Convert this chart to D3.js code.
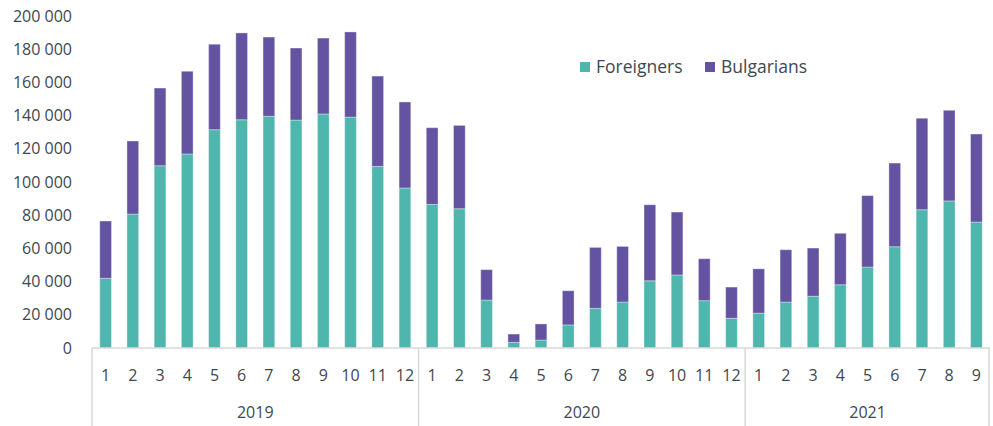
<!DOCTYPE html>
<html>
<head>
<meta charset="utf-8">
<script src="https://cdn.jsdelivr.net/npm/d3@7"></script>
<style>
  body { margin: 0; background: #fff; }
  svg text { font-family: "Open Sans", sans-serif; fill: #3d4850; }
</style>
</head>
<body>
<div id="chart"></div>
<script>
// monthly values, 2019-01 .. 2021-09
const years = ['2019', '2020', '2021'];
const months = [
  '1','2','3','4','5','6','7','8','9','10','11','12',
  '1','2','3','4','5','6','7','8','9','10','11','12',
  '1','2','3','4','5','6','7','8','9'
];
const yearOf = [
  '2019','2019','2019','2019','2019','2019','2019','2019','2019','2019','2019','2019',
  '2020','2020','2020','2020','2020','2020','2020','2020','2020','2020','2020','2020',
  '2021','2021','2021','2021','2021','2021','2021','2021','2021'
];
const foreigners = [
  42000, 80700, 109800, 116900, 131500, 137500, 139600, 137300, 141000, 139100, 109400, 96400,
  86500, 83900, 28900, 3400, 4800, 13900, 23900, 27700, 40500, 44000, 28500, 17900,
  21000, 27700, 31200, 38100, 48800, 61000, 83300, 88600, 75900
];
const bulgarians = [
  34500, 44000, 46800, 49800, 51500, 52300, 47700, 43400, 45700, 51300, 54400, 51800,
  46200, 50200, 18300, 5000, 9700, 20600, 36700, 33500, 45800, 37900, 25300, 18800,
  26700, 31500, 29000, 31000, 43000, 50400, 55100, 54600, 53000
];
const yTicks = [0, 20000, 40000, 60000, 80000, 100000, 120000, 140000, 160000, 180000, 200000];
const seriesNames = ['Foreigners', 'Bulgarians'];
const colors = ['#4fb6ad', '#6453a1'];

const width = 993, height = 426;
const margin = {left: 92, right: 3, top: 16, bottom: 78};

const svg = d3.select('#chart').append('svg')
  .attr('width', width)
  .attr('height', height);

const rows = months.map((m, i) => ({
  key: i, month: m, year: yearOf[i],
  Foreigners: foreigners[i], Bulgarians: bulgarians[i]
}));

const x = d3.scaleBand()
  .domain(rows.map(d => d.key))
  .range([margin.left, width - margin.right])
  .paddingInner(0.57)
  .paddingOuter(0.285);

const y = d3.scaleLinear()
  .domain([0, 200000])
  .range([height - margin.bottom, margin.top]);

const stack = d3.stack().keys(seriesNames);
const layers = stack(rows);

// bars
svg.append('g').selectAll('g')
  .data(layers)
  .enter().append('g')
  .attr('fill', (d, i) => colors[i])
  .selectAll('rect')
  .data(d => d)
  .enter().append('rect')
  .attr('x', d => x(d.data.key))
  .attr('width', x.bandwidth())
  .attr('y', d => y(d[1]))
  .attr('height', d => y(d[0]) - y(d[1]))
  .attr('stroke', '#ffffff')
  .attr('stroke-opacity', 0.35)
  .attr('stroke-width', 1);

// y axis labels (no line)
const fmt = v => d3.format(',')(v).replace(/,/g, ' ');
svg.append('g').selectAll('text')
  .data(yTicks)
  .enter().append('text')
  .attr('x', 72)
  .attr('y', d => y(d))
  .attr('dy', '0.35em')
  .attr('text-anchor', 'end')
  .attr('font-size', 16)
  .text(fmt);

// x axis with grouped categories
const axisColor = '#d9d9d9';
const y0 = y(0);
const step = x.step();
const x0 = margin.left, x1 = width - margin.right;

svg.append('line')
  .attr('x1', x0).attr('x2', x1)
  .attr('y1', y0).attr('y2', y0)
  .attr('stroke', axisColor).attr('stroke-width', 1.5);

// separators between years
const bounds = [0];
years.forEach(yr => bounds.push(bounds[bounds.length - 1] + yearOf.filter(v => v === yr).length));
svg.append('g').selectAll('line')
  .data(bounds)
  .enter().append('line')
  .attr('x1', d => Math.min(x0 + d * step, x1 - 1))
  .attr('x2', d => Math.min(x0 + d * step, x1 - 1))
  .attr('y1', y0).attr('y2', height)
  .attr('stroke', axisColor).attr('stroke-width', 1.5);

// month labels
svg.append('g').selectAll('text')
  .data(rows)
  .enter().append('text')
  .attr('x', d => x(d.key) + x.bandwidth() / 2)
  .attr('y', 381)
  .attr('text-anchor', 'middle')
  .attr('font-size', 16)
  .text(d => d.month);

// year labels
svg.append('g').selectAll('text')
  .data(years)
  .enter().append('text')
  .attr('x', (d, i) => x0 + (bounds[i] + bounds[i + 1]) / 2 * step)
  .attr('y', 418)
  .attr('text-anchor', 'middle')
  .attr('font-size', 16)
  .text(d => d);

// legend
const legend = svg.append('g').attr('transform', 'translate(580, 67)');
const legendX = [0, 125];
seriesNames.forEach((name, i) => {
  const g = legend.append('g').attr('transform', `translate(${legendX[i]}, 0)`);
  g.append('rect')
    .attr('x', 0).attr('y', -5)
    .attr('width', 10).attr('height', 10)
    .attr('fill', colors[i]);
  g.append('text')
    .attr('x', 16).attr('y', 0)
    .attr('dy', '0.35em')
    .attr('font-size', 17.5)
    .text(name);
});
</script>
</body>
</html>
